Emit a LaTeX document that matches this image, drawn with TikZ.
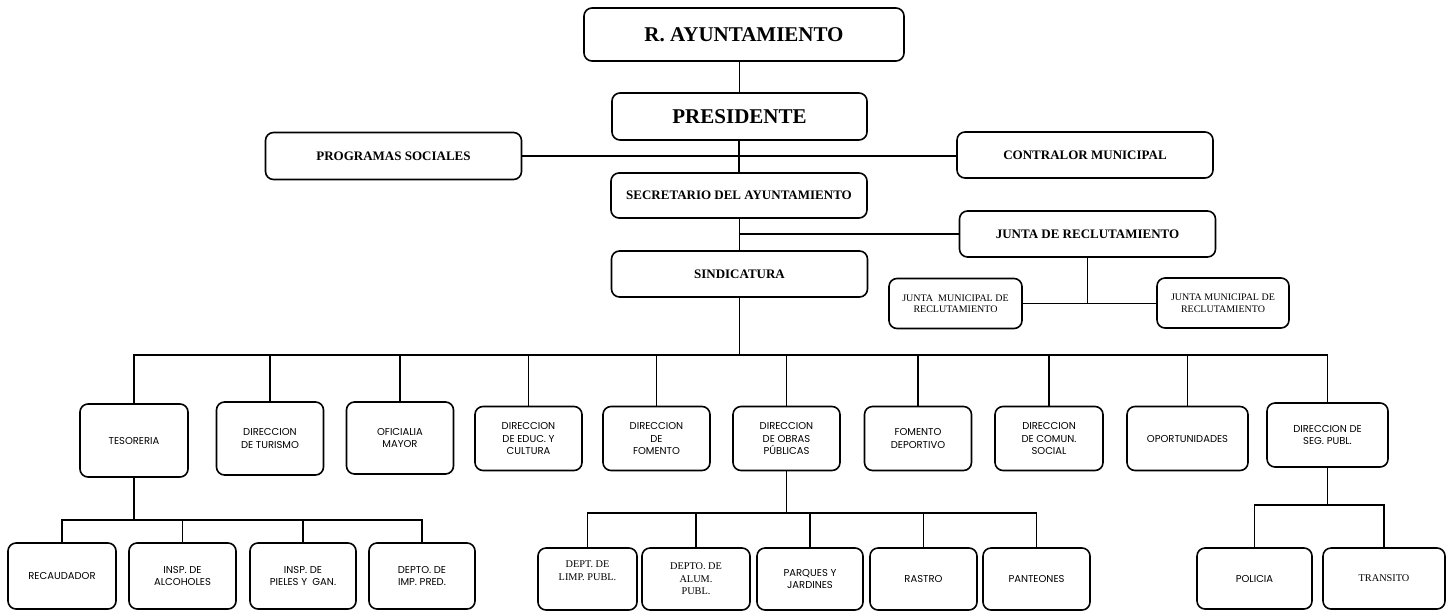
\documentclass[tikz,border=0pt]{standalone}
\usepackage{fontspec}
\setmainfont{Liberation Serif}
\newfontfamily\gothic{Poppins}
\usepackage{tikz}
\usetikzlibrary{positioning,calc}

\begin{document}
\begin{tikzpicture}[
  x=1pt, y=-1pt,
  line width=1.6pt,
  box/.style={draw, rounded corners=8pt, align=center, inner sep=2pt},
  head/.style={box, font=\fontsize{21}{23}\selectfont\bfseries},
  office/.style={box, minimum width=256pt, minimum height=46pt, font=\fontsize{13}{15}\selectfont\bfseries},
  junta/.style={box, minimum width=133pt, minimum height=50pt, font=\fontsize{10}{11.5}\selectfont},
  dept/.style={box, minimum width=107pt, minimum height=64pt, font=\gothic\fontsize{10}{12.5}\selectfont},
  sub/.style={box, minimum width=107pt, minimum height=62pt, font=\gothic\fontsize{10}{12.5}\selectfont},
  subrm/.style={sub, font=\fontsize{10.3}{12.5}\selectfont}
]
  \useasboundingbox (0,0) rectangle (1447,611);

  % top of the chart
  \node[head, minimum width=320pt, minimum height=53pt] (ayunt) at (744,34.5) {R. AYUNTAMIENTO};
  \node[head, minimum width=255pt, minimum height=47pt] (pres) at (739.5,116.5) {PRESIDENTE};
  \node[office, minimum height=47pt] (prog) at (393.5,156) {PROGRAMAS SOCIALES};
  \node[office] (contr) at (1085,155) {CONTRALOR MUNICIPAL};
  \node[office, minimum height=45pt] (secr) at (739,195.5) {SECRETARIO DEL AYUNTAMIENTO};
  \node[office] (junta) at (1087.5,234) {JUNTA DE RECLUTAMIENTO};
  \node[office] (sind) at (739.5,274) {SINDICATURA};
  \node[junta] (jml) at (955.5,303.5) {JUNTA\ \ MUNICIPAL DE\\RECLUTAMIENTO};
  \node[junta, minimum width=132pt] (jmr) at (1223,303) {JUNTA MUNICIPAL DE\\RECLUTAMIENTO};

  \draw (pres.north) -- (pres.north |- ayunt.south);
  \draw (secr.north) -- (secr.north |- pres.south);
  \draw (prog.east) -- (prog.east -| contr.west);
  \draw (sind.north) -- (sind.north |- secr.south);
  \draw (junta.west) -- (junta.west -| secr.south);
  \draw (jml.east) -- (jml.east -| jmr.west);
  \draw (junta.south) -- (junta.south |- jml.east);

  % direcciones
  \node[dept, minimum height=73pt, minimum width=108pt] (tes) at (134,440.5) {TESORERIA};
  \node[dept, minimum height=73pt] (tur) at (270,438.5) {DIRECCION\\DE TURISMO};
  \node[dept, minimum height=72pt] (ofi) at (400,438) {OFICIALIA\\MAYOR};
  \node[dept] (educ) at (528.5,438.5) {DIRECCION\\DE EDUC. Y\\CULTURA};
  \node[dept] (fom) at (656.5,438.5) {DIRECCION\\DE\\FOMENTO};
  \node[dept] (obras) at (786.5,438.5) {DIRECCION\\DE OBRAS\\PÚBLICAS};
  \node[dept] (dep) at (918,438.5) {FOMENTO\\DEPORTIVO};
  \node[dept, minimum width=108pt] (com) at (1049,438.5) {DIRECCION\\DE COMUN.\\SOCIAL};
  \node[dept, minimum width=121pt] (opor) at (1187.5,438.5) {OPORTUNIDADES};
  \node[dept, minimum width=121pt] (seg) at (1327.5,435) {DIRECCION DE\\SEG. PUBL.};

  \coordinate (bus) at (739.5,355);
  \draw (sind.south) -- (bus);
  \foreach \d in {tes,tur,ofi,educ,fom,obras,dep,com,opor,seg}
    \draw (\d.north) |- (bus);

  % tesoreria
  \node[sub, minimum height=66pt, minimum width=108pt] (rec) at (62,576) {RECAUDADOR};
  \node[sub, minimum height=66pt] (alc) at (182.5,576) {INSP. DE\\ALCOHOLES};
  \node[sub, minimum height=66pt, minimum width=106pt] (pie) at (303,576) {INSP. DE\\PIELES Y\ \ GAN.};
  \node[sub, minimum height=66pt, minimum width=106pt] (imp) at (422,576) {DEPTO. DE\\IMP. PRED.};

  \coordinate (tesbus) at (134,520);
  \draw (tes.south) -- (tesbus);
  \foreach \d in {rec,alc,pie,imp}
    \draw (\d.north) |- (tesbus);

  % obras publicas
  \node[subrm, minimum width=99pt] (limp) at (587.5,579) {DEPT. DE\\LIMP. PUBL.\\[4pt]};
  \node[subrm, minimum width=108pt] (alum) at (696,579) {DEPTO. DE\\ALUM.\\PUBL.};
  \node[sub, minimum width=106pt] (parq) at (810,579) {PARQUES Y\\JARDINES};
  \node[sub] (ras) at (923.5,579) {RASTRO};
  \node[sub] (pan) at (1036.5,579) {PANTEONES};

  \coordinate (obrbus) at (786.5,513);
  \draw (obras.south) -- (obrbus);
  \foreach \d in {limp,alum,parq,ras,pan}
    \draw (\d.north) |- (obrbus);

  % seguridad publica
  \node[sub, minimum width=115pt, minimum height=61pt] (pol) at (1254.5,578.5) {POLICIA};
  \node[subrm, minimum width=122pt, minimum height=61pt] (tra) at (1384,578.5) {TRANSITO};

  \coordinate (segbus) at (1327.5,505);
  \draw (seg.south) -- (segbus);
  \foreach \d in {pol,tra}
    \draw (\d.north) |- (segbus);
\end{tikzpicture}
\end{document}
